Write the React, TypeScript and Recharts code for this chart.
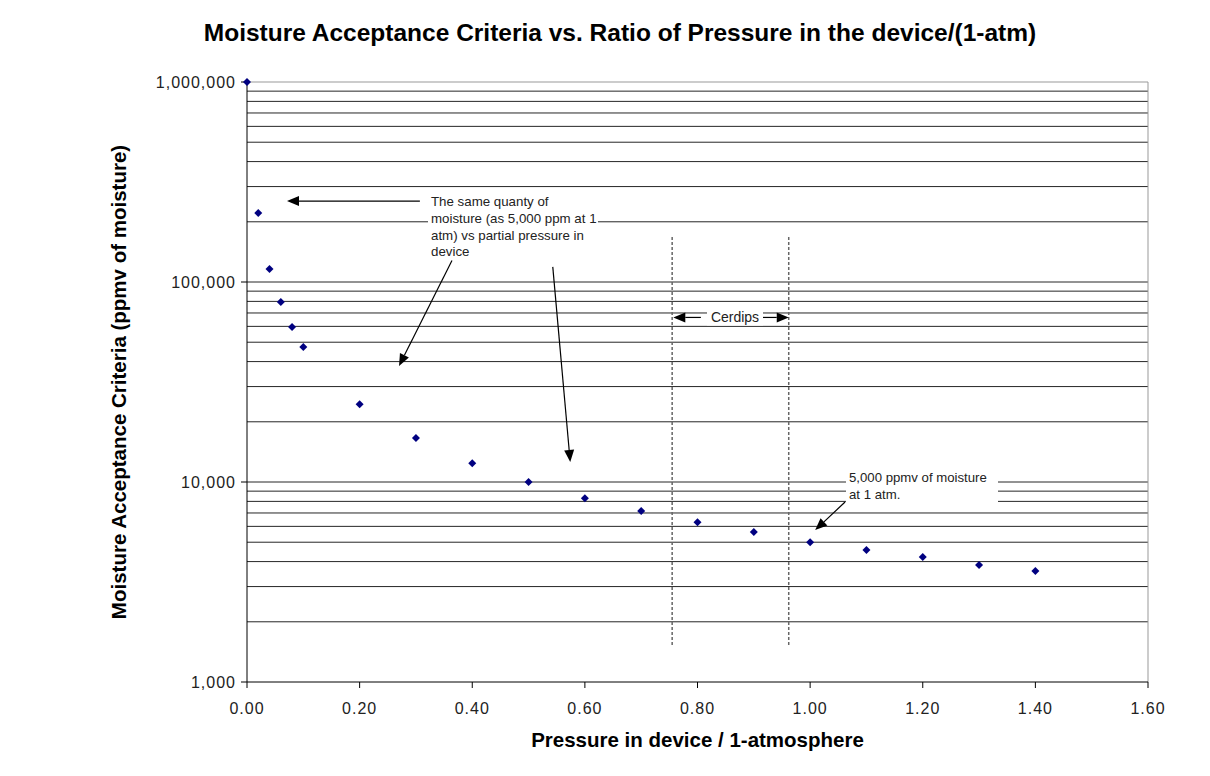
import React from 'react';
import {
  ScatterChart,
  Scatter,
  XAxis,
  YAxis,
  ReferenceLine,
  ReferenceDot,
  Label,
} from 'recharts';

// pressure in device / 1 atm, and the acceptance limit
const pressureRatio = [0, 0.02, 0.04, 0.06, 0.08, 0.1, 0.2, 0.3, 0.4, 0.5, 0.6, 0.7, 0.8, 0.9, 1.0, 1.1, 1.2, 1.3, 1.4];
const moisturePpmv = [
  1000000, 221000, 116000, 79400, 59600, 47300, 24500, 16600, 12400, 10000, 8300, 7160, 6300, 5620, 5000,
  4570, 4220, 3850, 3590,
];

const xTicks = [0, 0.2, 0.4, 0.6, 0.8, 1.0, 1.2, 1.4, 1.6];
const yTicks = [1000, 10000, 100000, 1000000];
const gridValues = [
  2000, 3000, 4000, 5000, 6000, 7000, 8000, 9000, 10000,
  20000, 30000, 40000, 50000, 60000, 70000, 80000, 90000, 100000,
  200000, 300000, 400000, 500000, 600000, 700000, 800000, 900000,
];

// annotation arrows: [x1, y1, x2, y2] in data units, head at the second point
const arrows = [
  [0.307, 254000, 0.071, 254000],
  [0.364, 128000, 0.27, 38000],
  [0.543, 119000, 0.574, 12600],
  [0.806, 66500, 0.757, 66500],
  [0.915, 66500, 0.962, 66500],
  [1.062, 7940, 1.009, 5750],
];
const cerdipBounds = [0.755, 0.962];

const chartData = pressureRatio.map((x, i) => ({ x, y: moisturePpmv[i] }));

const FONT = '"Liberation Sans", Arial, sans-serif';

const Diamond = (p: any) => {
  const { cx, cy } = p;
  const r = 4;
  return <polygon points={`${cx},${cy - r} ${cx + r},${cy} ${cx},${cy + r} ${cx - r},${cy}`} fill="#000080" />;
};

const Arrow = (p: any) => {
  const { x1, y1, x2, y2 } = p;
  const a = Math.atan2(y2 - y1, x2 - x1);
  const L = 12;
  const W = 5;
  const bx = x2 - L * Math.cos(a);
  const by = y2 - L * Math.sin(a);
  const pts = `${x2},${y2} ${bx + W * Math.sin(a)},${by - W * Math.cos(a)} ${bx - W * Math.sin(a)},${by + W * Math.cos(a)}`;
  return (
    <g>
      <line x1={x1} y1={y1} x2={bx} y2={by} stroke="#000" strokeWidth={1.2} />
      <polygon points={pts} fill="#000" />
    </g>
  );
};

const textBox = (lines: string[], w: number, h: number, anchor: 'start' | 'middle', size: number) => (p: any) => {
  const { cx, cy } = p;
  const left = anchor === 'middle' ? cx - w / 2 : cx;
  const top = anchor === 'middle' ? cy - h / 2 : cy;
  return (
    <g>
      <rect x={left} y={top} width={w} height={h} fill="#fff" />
      {lines.map((t, i) => (
        <text
          key={i}
          x={anchor === 'middle' ? cx : cx + 3}
          y={anchor === 'middle' ? cy + size * 0.36 : top + 16 + i * 16.7}
          textAnchor={anchor}
          fontSize={size}
          fontFamily={FONT}
          fill="#222"
        >
          {t}
        </text>
      ))}
    </g>
  );
};

const tickStyle = { fontSize: 16, fill: '#222', fontFamily: FONT, letterSpacing: 1 };

export default function App() {
  return (
    <div style={{ position: 'relative', width: 1194, height: 760, fontFamily: FONT }}>
      <div
        style={{
          position: 'absolute',
          left: 12,
          width: 1200,
          top: 11,
          textAlign: 'center',
          fontSize: 24.5,
          fontWeight: 'bold',
          lineHeight: '28px',
          color: '#000',
        }}
      >
        Moisture Acceptance Criteria vs. Ratio of Pressure in the device/(1-atm)
      </div>
      <ScatterChart width={1194} height={760} margin={{ top: 74, right: 54, bottom: 16, left: 0 }}>
        <XAxis
          type="number"
          dataKey="x"
          domain={[0, 1.6]}
          ticks={xTicks}
          tickFormatter={(v: number) => v.toFixed(2)}
          height={70}
          axisLine={{ stroke: '#000' }}
          tickLine={{ stroke: '#000' }}
          tickSize={6}
          tickMargin={15}
          tick={tickStyle}
        >
          <Label
            content={(props: any) => {
              const vb = props.viewBox;
              return (
                <text x={vb.x + vb.width / 2} y={vb.y + 65} textAnchor="middle" fontSize={20.5} fontWeight="bold" fontFamily={FONT} fill="#000">
                  Pressure in device / 1-atmosphere
                </text>
              );
            }}
          />
        </XAxis>
        <YAxis
          type="number"
          dataKey="y"
          scale="log"
          domain={[1000, 1000000]}
          ticks={yTicks}
          tickFormatter={(v: number) => v.toLocaleString('en-US')}
          width={239}
          axisLine={{ stroke: '#000' }}
          tickLine={{ stroke: '#000' }}
          tickSize={6}
          tickMargin={5}
          tick={tickStyle}
        >
          <Label
            content={(props: any) => {
              const vb = props.viewBox;
              const cx = 110;
              const cy = vb.y + vb.height / 2;
              return (
                <text
                  x={cx}
                  y={cy}
                  transform={`rotate(-90, ${cx}, ${cy})`}
                  textAnchor="middle"
                  dominantBaseline="central"
                  fontSize={20.5}
                  fontWeight="bold"
                  fontFamily={FONT}
                  fill="#000"
                >
                  Moisture Acceptance Criteria (ppmv of moisture)
                </text>
              );
            }}
          />
        </YAxis>
        {gridValues.map((v) => (
          <ReferenceLine key={`g${v}`} y={v} stroke="#262626" strokeWidth={1} />
        ))}
        <ReferenceLine y={1000000} stroke="#999" />
        <ReferenceLine x={1.6} stroke="#999" />
        {cerdipBounds.map((x) => (
          <ReferenceLine
            key={x}
            segment={[{ x, y: 168000 }, { x, y: 1530 }]}
            stroke="#666"
            strokeWidth={1.5}
            strokeDasharray="3 2"
          />
        ))}
        <ReferenceDot
          x={0.3214}
          y={288000}
          r={1}
          shape={textBox(['The same quanty of', 'moisture (as 5,000 ppm at 1', 'atm) vs partial pressure in', 'device'], 170, 68, 'start', 13.3)}
        />
        <ReferenceDot x={0.8666} y={66500} r={1} shape={textBox(['Cerdips'], 56, 16, 'middle', 14)} />
        <ReferenceDot
          x={1.0637}
          y={12000}
          r={1}
          shape={textBox(['5,000 ppmv of moisture', 'at 1 atm.'], 152, 38, 'start', 13.2)}
        />
        {arrows.map((a, i) => (
          <ReferenceLine key={i} segment={[{ x: a[0], y: a[1] }, { x: a[2], y: a[3] }]} shape={Arrow} />
        ))}
        <Scatter data={chartData} shape={Diamond} isAnimationActive={false} />
      </ScatterChart>
    </div>
  );
}
